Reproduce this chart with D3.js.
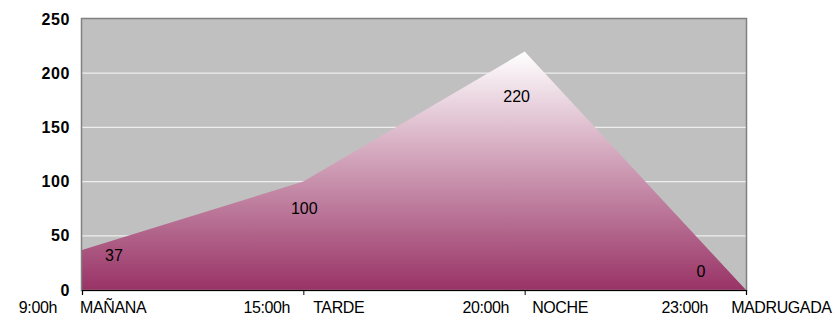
<!DOCTYPE html>
<html><head><meta charset="utf-8">
<script src="https://cdn.jsdelivr.net/npm/d3@7"></script>
<style>body{margin:0;background:#fff;} svg{display:block;}</style>
</head><body><svg id="c" width="835" height="321"></svg>
<script>
const times = ["9:00h", "15:00h", "20:00h", "23:00h"];
const periods = ["MAÑANA", "TARDE", "NOCHE", "MADRUGADA"];
const values = [37, 100, 220, 0];
const yTicks = [0, 50, 100, 150, 200, 250];

const W = 835, H = 321;
const m = {l: 82, r: 89, t: 19, b: 31};
const svg = d3.select("#c");
const x = d3.scalePoint().domain(d3.range(values.length)).range([m.l, W - m.r]);
const y = d3.scaleLinear().domain([0, 250]).range([H - m.b, m.t]);

const defs = svg.append("defs");
const g = defs.append("linearGradient").attr("id", "grad")
  .attr("gradientUnits", "userSpaceOnUse")
  .attr("x1", 0).attr("x2", 0).attr("y1", y(d3.max(values))).attr("y2", y(0));
g.append("stop").attr("offset", "0%").attr("stop-color", "#ffffff");
g.append("stop").attr("offset", "100%").attr("stop-color", "#993366");

// plot background
svg.append("rect").attr("x", m.l).attr("y", m.t)
  .attr("width", W - m.r - m.l).attr("height", H - m.b - m.t)
  .attr("fill", "#c0c0c0");

// gridlines
svg.append("g").selectAll("line").data(yTicks.filter(d => d > 0 && d < 250)).join("line")
  .attr("x1", m.l).attr("x2", W - m.r)
  .attr("y1", d => y(d)).attr("y2", d => y(d))
  .attr("stroke", "#eeeeee").attr("stroke-width", 1.2);

// area
const area = d3.area().x((d, i) => x(i)).y0(y(0)).y1(d => y(d));
svg.append("path").datum(values).attr("d", area).attr("fill", "url(#grad)");

// plot border
svg.append("rect").attr("x", m.l - 0.5).attr("y", m.t - 0.5)
  .attr("width", W - m.r - m.l + 1).attr("height", H - m.b - m.t + 1)
  .attr("fill", "none").attr("stroke", "#808080").attr("stroke-width", 1.5);

const FONT = "Liberation Sans, Arial, sans-serif";

// y axis
const ya = svg.append("g").attr("transform", `translate(${m.l},0)`)
  .call(d3.axisLeft(y).tickValues(yTicks).tickSize(0).tickPadding(12));
ya.select(".domain").remove();
ya.selectAll("text").attr("font-family", FONT)
  .attr("font-size", 16).attr("font-weight", "bold").attr("fill", "#000")
  .attr("letter-spacing", "0.6px");

// x axis
const xa = svg.append("g").attr("transform", `translate(0,${H - m.b})`)
  .call(d3.axisBottom(x).tickSize(5).tickPadding(7).tickFormat(i => times[i] + "\u2003\u2002" + periods[i]));
xa.select(".domain").attr("stroke", "#000").attr("stroke-width", 1.2);
xa.selectAll(".tick line").attr("stroke", "#000");
xa.selectAll("text").attr("font-family", FONT)
  .attr("font-size", 16).attr("fill", "#000").attr("letter-spacing", "-0.4px");

// data labels
const offs = [[32, 6], [1, 27], [-8, 45], [-45, -19]];
svg.append("g").selectAll("text").data(values).join("text")
  .attr("x", (d, i) => x(i) + offs[i][0])
  .attr("y", (d, i) => y(d) + offs[i][1])
  .attr("dy", "0.35em").attr("text-anchor", "middle")
  .attr("font-family", FONT).attr("font-size", 16)
  .attr("fill", "#000").text(d => d);
</script></body></html>
